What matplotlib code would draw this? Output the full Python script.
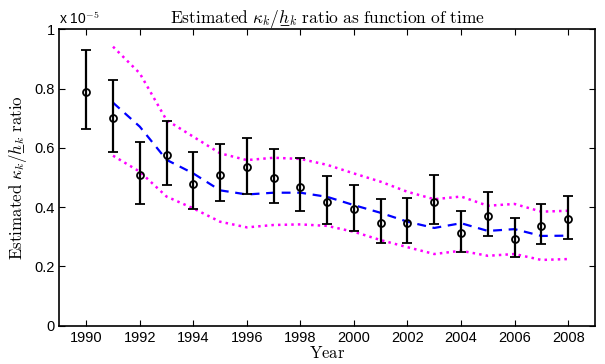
import numpy as np
import matplotlib
matplotlib.use('Agg')
import matplotlib.pyplot as plt

plt.rcParams['mathtext.fontset'] = 'cm'
plt.rcParams['font.family'] = 'Liberation Sans'

# точки с доверительными интервалами (в единицах 1e-5)
years = np.arange(1990, 2009)
ratio = [0.79, 0.70, 0.51, 0.575, 0.48, 0.51, 0.535, 0.50, 0.468, 0.417,
         0.393, 0.348, 0.348, 0.419, 0.314, 0.371, 0.293, 0.337, 0.360]
ratio_lo = [0.665, 0.585, 0.41, 0.475, 0.395, 0.42, 0.445, 0.415, 0.387, 0.342,
            0.32, 0.28, 0.278, 0.344, 0.25, 0.303, 0.233, 0.275, 0.294]
ratio_hi = [0.93, 0.83, 0.62, 0.69, 0.585, 0.615, 0.635, 0.595, 0.565, 0.505,
            0.476, 0.428, 0.43, 0.51, 0.388, 0.451, 0.365, 0.411, 0.439]

# сглаженная оценка и границы (1991-2008)
trend_years = np.arange(1991, 2009)
trend = [0.753, 0.672, 0.560, 0.514, 0.457, 0.443, 0.449, 0.449, 0.435, 0.407,
         0.381, 0.351, 0.330, 0.346, 0.320, 0.326, 0.303, 0.304]
upper = [0.942, 0.852, 0.694, 0.638, 0.582, 0.559, 0.567, 0.563, 0.543, 0.514,
         0.486, 0.452, 0.427, 0.436, 0.405, 0.411, 0.385, 0.388]
lower = [0.574, 0.520, 0.436, 0.396, 0.351, 0.332, 0.340, 0.342, 0.337, 0.317,
         0.289, 0.265, 0.242, 0.253, 0.236, 0.242, 0.222, 0.225]

fig = plt.figure(figsize=(6.05, 3.64), dpi=100)
ax = fig.add_axes([0.0983, 0.1052, 0.885, 0.8138])

ax.plot(trend_years, upper, color=(1, 0, 1), linestyle=':', linewidth=1.8)
ax.plot(trend_years, lower, color=(1, 0, 1), linestyle=':', linewidth=1.8)
ax.plot(trend_years, trend, color=(0, 0, 1), linestyle='--', linewidth=1.6,
        dashes=(4, 3))

r = np.array(ratio)
yerr = [r - np.array(ratio_lo), np.array(ratio_hi) - r]
ax.errorbar(years, r, yerr=yerr, fmt='o', color='black', mfc='none', mec='black',
            ms=5, mew=1.3, elinewidth=1.6, capsize=3.5, capthick=1.6)

ax.set_xlim(1989, 2009)
ax.set_ylim(0, 1)
ax.set_xticks(np.arange(1990, 2009, 2))
ax.set_yticks([0, 0.2, 0.4, 0.6, 0.8, 1])
ax.set_yticklabels(['0', '0.2', '0.4', '0.6', '0.8', '1'])
ax.tick_params(direction='in', top=True, right=True, labelsize=10.5, length=4,
               width=0.8)
for s in ax.spines.values():
    s.set_linewidth(1.2)

ax.text(0, 1.01, r'x 10$^{-5}$', transform=ax.transAxes, fontsize=10,
        ha='left', va='bottom')

# подчёркнутая h через комбинируемый символ (в mathtext нет \underline)
h_under = 'h\u0332'
ax.set_title(r'$\mathrm{Estimated}\ \kappa_k/' + h_under + r'_k\ \mathrm{ratio\ as\ function\ of\ time}$',
             fontsize=12.5, pad=5)
ax.set_xlabel(r'$\mathrm{Year}$', fontsize=12, labelpad=0)
ax.set_ylabel(r'$\mathrm{Estimated}\ \kappa_k/' + h_under + r'_k\ \mathrm{ratio}$',
              fontsize=12.2, labelpad=4)

fig.savefig('out.png', dpi=100)
